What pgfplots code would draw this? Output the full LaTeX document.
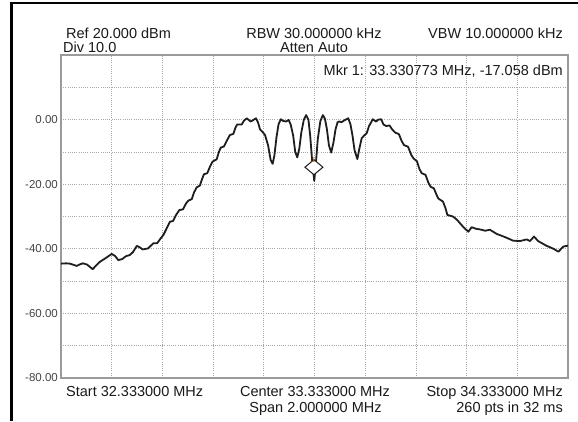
\documentclass[border=0pt]{standalone}
\usepackage{pgfplots}
\pgfplotsset{compat=1.18}
\usetikzlibrary{plotmarks}
\usepackage{fontspec}
\setmainfont{Liberation Sans}
\definecolor{trace}{HTML}{1E1E1E}
\definecolor{gridc}{HTML}{A8A8A8}
\definecolor{boxc}{HTML}{9A9A9A}
\definecolor{tickc}{HTML}{454545}
\definecolor{txt}{HTML}{1A1A1A}
\begin{document}
\begin{tikzpicture}
\useasboundingbox (0pt,0pt) rectangle (578pt,421pt);
\fill[white] (0pt,0pt) rectangle (578pt,421pt);
\draw[line width=2.7pt, black, line join=miter] (11.3pt,0pt) -- (11.3pt,418pt) -- (578pt,418pt);
\begin{axis}[
  at={(61pt,43pt)}, anchor=south west,
  width=507pt, height=323pt, scale only axis,
  xmin=32.333, xmax=34.333, ymin=-80, ymax=20,
  xtick={32.333,32.533,32.733,32.933,33.133,33.333,33.533,33.733,33.933,34.133,34.333},
  xticklabels={},
  ytick={-80,-60,-40,-20,0},
  yticklabels={-80.00,-60.00,-40.00,-20.00,0.00},
  minor ytick={-70,-50,-30,-10,10},
  grid=both,
  major grid style={gridc, line width=0.8pt, dash pattern=on 1pt off 1.2pt},
  minor grid style={gridc, line width=0.8pt, dash pattern=on 1pt off 1.2pt},
  major tick length=0pt, minor tick length=0pt,
  axis line style={boxc, line width=1.3pt},
  yticklabel style={font=\fontsize{11.5}{12}\selectfont, text=tickc, anchor=east, inner sep=0pt, xshift=-3pt},
  clip=false,
]
\addplot[trace, line width=1.8pt, line join=round] table[x=f, y=v] {
f v
32.333 -44.6
32.353 -44.5
32.368 -44.6
32.395 -45.3
32.408 -44.8
32.420 -44.5
32.436 -44.9
32.458 -46.3
32.471 -45.2
32.487 -44.0
32.507 -43.0
32.533 -41.6
32.546 -42.2
32.559 -43.5
32.574 -43.2
32.589 -42.3
32.605 -41.9
32.617 -41.0
32.632 -39.1
32.645 -39.6
32.655 -40.2
32.676 -39.9
32.697 -38.3
32.712 -38.3
32.724 -37.0
32.737 -35.7
32.751 -33.5
32.763 -31.6
32.775 -31.4
32.787 -29.5
32.800 -28.0
32.814 -27.8
32.826 -26.0
32.835 -25.1
32.849 -24.6
32.858 -22.5
32.868 -21.0
32.881 -20.4
32.889 -18.5
32.897 -16.9
32.910 -16.6
32.921 -14.5
32.931 -13.0
32.947 -12.3
32.956 -10.0
32.963 -8.7
32.976 -8.3
32.988 -6.4
32.999 -4.8
33.013 -4.4
33.021 -2.5
33.028 -1.5
33.046 -1.5
33.055 -0.3
33.066 0.4
33.081 -0.6
33.090 -0.2
33.102 0.4
33.110 -0.8
33.118 -3.0
33.130 -4.0
33.138 -4.8
33.150 -8.0
33.160 -12.5
33.168 -13.7
33.175 -11.0
33.183 -5.5
33.191 -1.5
33.200 0.1
33.209 -0.4
33.221 -0.6
33.231 -0.1
33.239 -1.5
33.249 -5.0
33.257 -10.0
33.265 -11.7
33.273 -9.0
33.281 -4.0
33.291 0.0
33.300 1.4
33.309 0.0
33.316 -5.0
33.324 -13.0
33.332 -19.0
33.338 -14.0
33.346 -6.0
33.356 -0.5
33.366 1.4
33.374 0.3
33.382 -3.0
33.390 -8.0
33.399 -10.2
33.408 -7.0
33.416 -3.0
33.424 -0.8
33.431 -0.6
33.440 -0.8
33.449 -0.3
33.466 0.4
33.475 -1.5
33.483 -5.0
33.491 -9.5
33.502 -12.2
33.510 -9.0
33.519 -5.8
33.528 -5.0
33.539 -4.2
33.548 -2.0
33.563 0.1
33.576 -0.6
33.585 0.0
33.596 0.1
33.605 -1.5
33.616 -2.0
33.629 -1.8
33.639 -3.0
33.651 -4.0
33.666 -4.5
33.676 -6.5
33.686 -7.9
33.702 -8.4
33.714 -10.8
33.723 -12.0
33.737 -12.9
33.747 -15.3
33.756 -16.6
33.771 -17.1
33.782 -19.5
33.791 -20.8
33.804 -21.3
33.814 -23.2
33.821 -24.4
33.840 -25.4
33.850 -27.5
33.857 -29.5
33.879 -30.0
33.895 -31.0
33.907 -32.1
33.923 -33.5
33.940 -34.7
33.953 -33.3
33.970 -33.8
33.986 -34.0
34.006 -34.4
34.025 -34.1
34.052 -35.4
34.069 -35.9
34.085 -36.4
34.100 -36.9
34.117 -37.5
34.144 -37.6
34.159 -37.3
34.170 -37.1
34.183 -37.6
34.199 -36.2
34.215 -37.6
34.231 -38.3
34.249 -39.1
34.262 -39.5
34.278 -40.1
34.295 -40.9
34.306 -40.0
34.315 -39.3
34.333 -39.0
};
\addplot[only marks, mark=diamond*, mark size=7.5pt,
  mark options={fill=white, draw=trace, line width=1pt, yshift=7.5pt, xscale=1.6},
  nodes near coords={1},
  every node near coord/.style={anchor=center, yshift=7.5pt, inner sep=0pt,
    font=\fontsize{7}{7}\selectfont, text=orange!85!black}]
  coordinates {(33.330773,-17.058)};
\end{axis}
\begin{scope}[every node/.style={inner sep=0pt, text=txt, font=\fontsize{14.5}{16}\selectfont}]
\node[anchor=base west] at (66pt,382pt) {Ref 20.000 dBm};
\node[anchor=base west] at (63pt,368.5pt) {Div 10.0};
\node[anchor=base] at (314pt,382pt) {RBW 30.000000 kHz};
\node[anchor=base] at (314pt,368.5pt) {Atten Auto};
\node[anchor=base east] at (563pt,382pt) {VBW 10.000000 kHz};
\node[anchor=base east] at (563pt,345.5pt) {Mkr 1: 33.330773 MHz, -17.058 dBm};
\node[anchor=base west] at (66pt,25pt) {Start 32.333000 MHz};
\node[anchor=base] at (315pt,24.5pt) {Center 33.333000 MHz};
\node[anchor=base] at (315.5pt,8.5pt) {Span 2.000000 MHz};
\node[anchor=base east] at (563pt,24.5pt) {Stop 34.333000 MHz};
\node[anchor=base east] at (563pt,8.5pt) {260 pts in 32 ms};
\end{scope}
\end{tikzpicture}
\end{document}
